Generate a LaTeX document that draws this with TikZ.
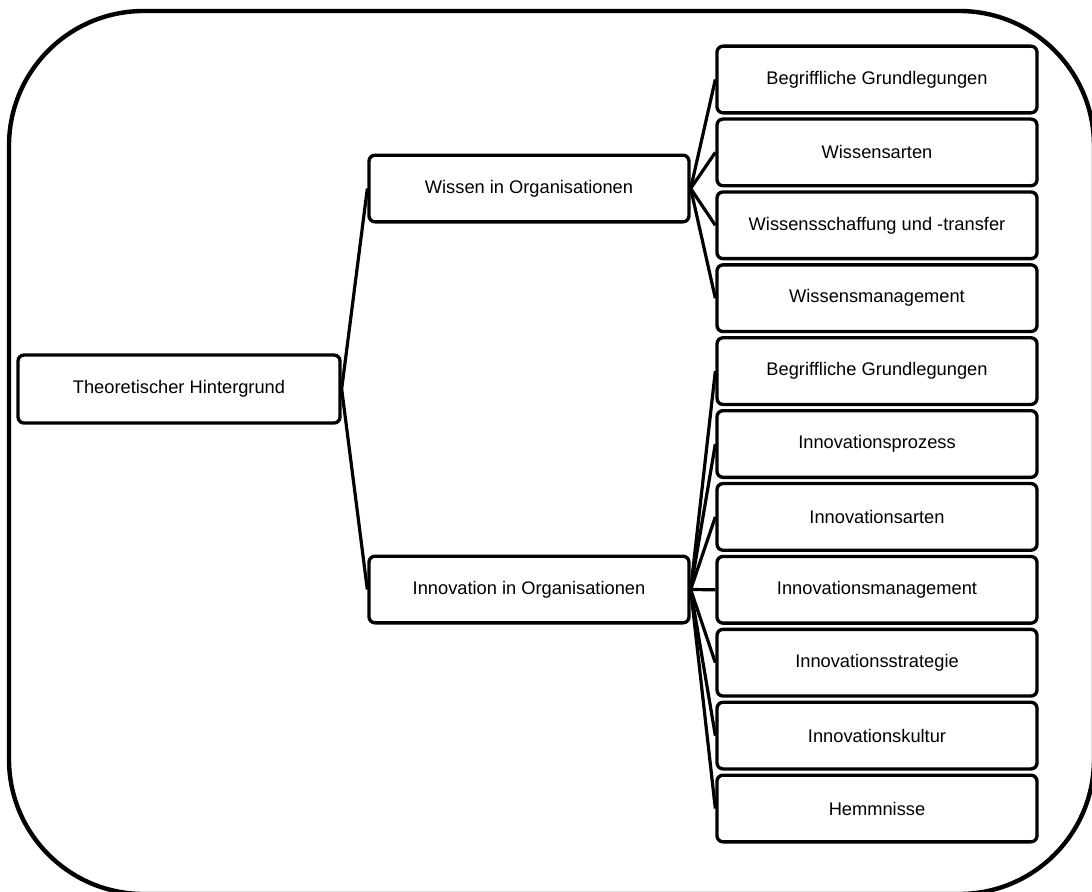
\documentclass[tikz,border=0pt]{standalone}
\usepackage{fontspec}
\setmainfont{Liberation Sans}
\begin{document}
\begin{tikzpicture}[x=0.75pt,y=-0.75pt,
  topic/.style={draw=black, line width=2.5pt, rounded corners=4.5pt, fill=white,
    minimum width=240pt, minimum height=50pt, inner sep=0pt,
    font=\fontsize{13.7pt}{16pt}\selectfont},
  link/.style={line width=2.4pt}]
\clip (0,0) rectangle (1092,892);
\fill[white] (0,0) rectangle (1092,892);
% outer frame
\draw[line width=3.3pt, rounded corners=101pt] (9,11) rectangle (1094,894);

% root
\node[topic, minimum width=241.5pt, minimum height=51pt] (root) at (179,389) {Theoretischer Hintergrund};

% second level
\node[topic] (wissen) at (529,188.5) {Wissen in Organisationen};
\node[topic] (innov) at (529,589.5) {Innovation in Organisationen};

% third level: knowledge
\node[topic] (w1) at (877,79.5) {Begriffliche Grundlegungen};
\node[topic] (w2) at (877,152.4) {Wissensarten};
\node[topic] (w3) at (877,225.3) {Wissensschaffung und -transfer};
\node[topic] (w4) at (877,298.2) {Wissensmanagement};

% third level: innovation
\node[topic] (i1) at (877,371.1) {Begriffliche Grundlegungen};
\node[topic] (i2) at (877,444.0) {Innovationsprozess};
\node[topic] (i3) at (877,516.9) {Innovationsarten};
\node[topic] (i4) at (877,589.8) {Innovationsmanagement};
\node[topic] (i5) at (877,662.7) {Innovationsstrategie};
\node[topic] (i6) at (877,735.6) {Innovationskultur};
\node[topic] (i7) at (877,808.5) {Hemmnisse};

% connectors
\draw[link] (root.east) -- (wissen.west);
\draw[link] (root.east) -- (innov.west);
\foreach \c in {w1,w2,w3,w4} \draw[link] (wissen.east) -- (\c.west);
\foreach \c in {i1,i2,i3,i4,i5,i6,i7} \draw[link] (innov.east) -- (\c.west);
\end{tikzpicture}
\end{document}
